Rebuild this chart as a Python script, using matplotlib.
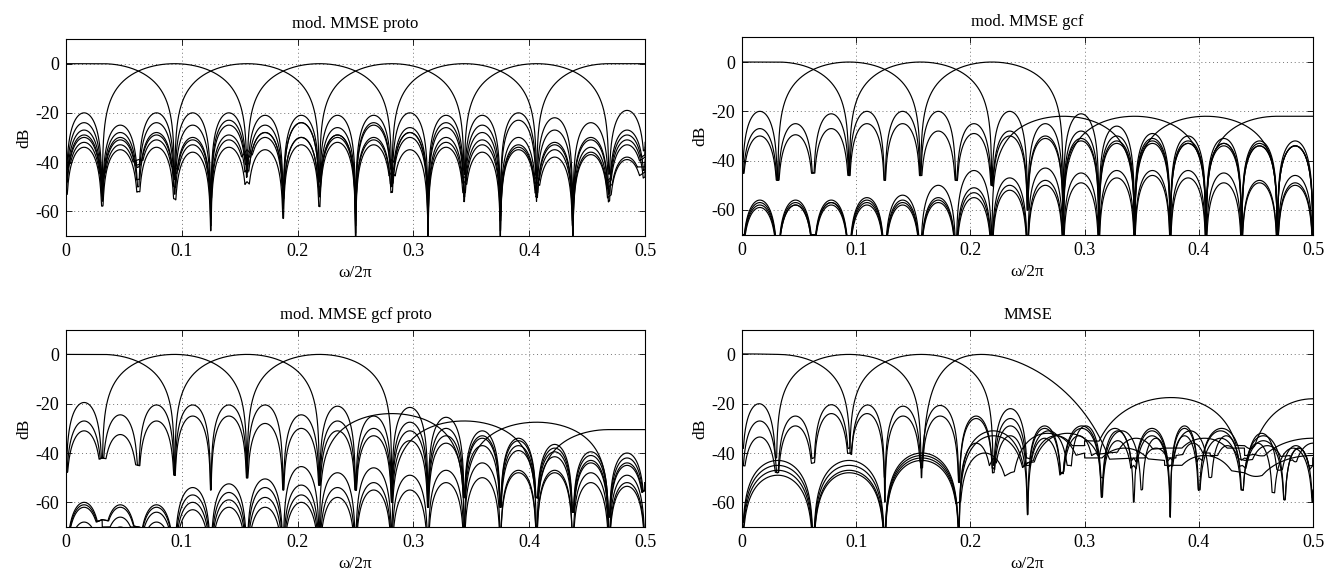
import numpy as np
import matplotlib
matplotlib.use("Agg")
import matplotlib.pyplot as plt
from matplotlib.ticker import FuncFormatter

plt.rcParams['font.family'] = ['Liberation Serif', 'DejaVu Serif']
plt.rcParams['axes.unicode_minus'] = False

N = None
titles = ["mod. MMSE proto", "mod. MMSE gcf", "mod. MMSE gcf proto", "MMSE"]
xticks = [0, 0.1, 0.2, 0.3, 0.4, 0.5]
yticks = [-60, -40, -20, 0]

# ---- panels A-C: lobes on a 1/32 grid (bin units); main = (first null, last null) ----
A_main = [(-1, 3), (1, 5), (3, 7), (5, 9), (7, 11), (9, 13), (11, 15), (13, 17)]
A_level = [0, 0, 0, 0, 0, 0, 0, 0]
A_side = [
    [N, N, N, -20, -25, -28, -30, -30, -33, -35, -32, -36, -34, -38, -36, -38],
    [-20, N, N, N, N, -21, -24, -29, -31, -30, -34, -33, -35, -33, -37, -39],
    [-24, -25, -20, N, N, N, N, -21, -25, -28, -30, -31, -33, -35, -34, -33],
    [-27, -28, -24, -25, -20, N, N, N, N, -20, -24, -28, -30, -32, -31, -31],
    [-29, -30, -28, -30, -23, -25, -21, N, N, N, N, -21, -23, -27, -30, -29],
    [-30, -31, -29, -31, -29, -28, -24, -26, -21, N, N, N, N, -22, -24, -27],
    [-32, -33, -31, -33, -31, -30, -30, -29, -24, -26, -21, N, N, N, N, -19],
    [-34, -35, -34, -36, -34, -35, -33, -32, -30, -28, -26, -25, -20, N, N, N],
]
A_depth = [-45, -50, -44, -47, -60, -40, -55, -50, -66, -44, -62, -48, -64, -48, -66, -50, -40]
A_offset = [0, -4, 2, -6, 3, -3, 5, -8]

B_main = A_main
B_level = [0, 0, 0, 0, -22, -22, -22, -22]
B_side = [
    [N, N, N, -20, -25, -28, -29, -30, -31, -32, -33, -33, -33, -34, -34, -34],
    [-20, N, N, N, N, -20, -25, -28, -30, -31, -32, -32, -33, -33, -34, -34],
    [-27, -25, -21, N, N, N, N, -20, -25, -28, -30, -31, -32, -33, -33, -34],
    [-30, -29.5, -27, -25, -20, N, N, N, N, -21, -26, -29, -30, -31, -32, -32],
    [-56, -56, -56, -55, -54, -50, -44, N, N, N, N, -44, -47, -49, -49, -50],
    [-57, -57, -57, -56, -56, -55, -51, -47, -43, N, N, N, N, -45, -48, -49],
    [-58, -58, -57, -57, -57, -56, -53, -50, -48, -45, -44, N, N, N, N, -46],
    [-59, -58, -58, -58, -58, -57, -55, -52, -50, -49, -47, -46, -44, N, N, N],
]
B_depth = [-45, -48, -45, -46, -48, -46, -48, -50, -60, -70, -70, -70, -70, -70, -70, -70, -70]
B_offset = [0, 0, 0, 0, -25, -25, -25, -25]

C_main = A_main
C_level = [0, 0, 0, 0, -24, -27, -27.5, -30.5]
C_side = [
    [N, N, N, -20.5, -25, -28, -30, -31, -33, -35, -36, -37, -39, -41.5, -44, -45],
    [-19.5, N, N, N, N, -20.5, -24.5, -27, -30, -31, -33, -34, -37, -39.5, -43, -44],
    [-27, -24.5, -20.5, N, N, N, N, -21, -25, -27.5, -30, -33, -35, -38, -41, -42],
    [-31, -32.5, -27, -25, -20.5, N, N, N, N, -21.5, -25.5, -31, -34, -36.5, -39.5, -40],
    [-60, -61, -61, -54, -52.5, -50.5, -45.5, N, N, N, N, -44, -47, -48, -52, -53.5],
    [-61, -62, -62, -57, -56, -54, -53, -48, -46, N, N, N, N, -47, -48, -52],
    [-62, -66, -64, -60, -59, -58, -57, -54, -52, -49, -47, N, N, N, N, -49],
    [-68, -70, -68, -63, -62, -62, -60, -58, -55, -55, -52, -50, -48, N, N, N],
]
C_depth = [-48, -42, -45, -49, -55, -50, -55, -53, -55, -60, -62, -58, -62, -58, -64, -66, -55]
C_offset = [0, 0, 0, 0, -25, -25, -25, -25]

# ---- panel D: explicit nulls (omega/2pi), lobe peaks (dB; or (dB, peak pos, sharpness)), null depths ----
D_nulls = [
    [-0.033, 0.095, 0.125, 0.157, 0.19, 0.22, 0.25, 0.28, 0.315, 0.343, 0.375, 0.40, 0.438, 0.465, 0.5],
    [0, 0.03, 0.157, 0.19, 0.22, 0.25, 0.287, 0.315, 0.35, 0.375, 0.41, 0.438, 0.475, 0.5],
    [0, 0.031, 0.0625, 0.094, 0.22, 0.25, 0.28, 0.31, 0.343, 0.375, 0.40, 0.44, 0.47, 0.5],
    [0, 0.031, 0.0625, 0.094, 0.125, 0.157, 0.345, 0.38, 0.41, 0.44, 0.48, 0.52],
    [0, 0.0625, 0.125, 0.19, 0.25, 0.30, 0.44, 0.56],
    [0, 0.0625, 0.125, 0.19, 0.22, 0.25, 0.28, 0.315, 0.343, 0.375, 0.40, 0.438, 0.475, 0.5],
    [0, 0.0625, 0.125, 0.19, 0.25, 0.32, 0.37, 0.44, 0.56],
    [0, 0.0625, 0.125, 0.19, 0.235, 0.30, 0.37, 0.44, 0.56],
]
D_peaks = [
    [0, -20.5, -25, -25, -26, -29, -34, -30, -35, -33, -29, -34, -36, -38],
    [-20, 0, -20.7, -25, -26, -31, -29, -31, -34, -31, -33, -35, -38],
    [-27, -25, -20.4, 0, -22, -29, -33, -30, -31, -33, -30, -32, -37],
    [-33.5, -29, -24, -24, -21, (0, 0.28, 3.2), -38, -36, -37, -37, -39],
    [-43, -43, -40, -31, -33, (-17.5, 0.54, 1.3), (-21, 0.5, 1.5)],
    [-45, -45, -41, -36, -33, -30, -29, -31, -30, -30, -31, -33, -38],
    [-47, -47, -42, -33, -32, -34, -34, -37],
    [-49, -48, -43, -40, -32, -38, -41, -44],
]
D_depths = [
    [-80, -40, -60, -43, -52, -46, -65, -48, -58, -45, -66, -55, -55, -56, -60],
    [-38, -42, -50, -51, -48, -45, -45, -50, -55, -45, -50, -45, -59, -45],
    [-45, -48, -42, -38, -45, -42, -48, -40, -60, -42, -55, -42, -47, -45],
    [-45, -48, -44, -40, -50, -46, -42, -41, -39, -43, -41, -80],
    [-68, -72, -72, -70, -44, -35, -37, -80],
    [-68, -72, -72, -70, -42, -65, -48, -58, -42, -66, -42, -55, -59, -58],
    [-70, -72, -72, -70, -44, -40, -38, -38, -80],
    [-70, -72, -72, -60, -48, -40, -43, -48, -80],
]


def from_bins(main, level, side, base_depth, offset, binw=1.0 / 32):
    lo, hi = main
    segs = []
    for b in range(16):
        if b < lo or b >= hi:
            segs.append((b, b + 1, side[b]))
    segs.append((lo, hi, level))
    segs.sort()
    nulls = [segs[0][0]] + [s[1] for s in segs]
    peaks = [s[2] for s in segs]
    depths = [(base_depth[j] + offset) if 0 <= j <= 16 else -90 for j in nulls]
    return [n * binw for n in nulls], peaks, depths


def lobes(x, nulls, peaks, depths):
    y = np.full_like(x, -300.0)
    for i, p in enumerate(peaks):
        a, b = nulls[i], nulls[i + 1]
        if isinstance(p, tuple):
            lev, pf, k = p
        else:
            lev, pf, k = p, 0.5, 1.0
        m = (x >= a) & (x <= b)
        if not m.any():
            continue
        u = (x[m] - a) / (b - a)
        e = np.log(0.5) / np.log(pf)
        s = np.sin(np.pi * np.clip(u, 0, 1) ** e)
        arch = lev + k * 20 * np.log10(np.maximum(s, 1e-8))
        floor = depths[i] + (depths[i + 1] - depths[i]) * u
        floor = np.minimum(floor, lev - 4)
        y[m] = np.maximum(arch, floor)
    return y


def response(x, nulls, peaks, depths):
    p = (10 ** (lobes(x, nulls, peaks, depths) / 10)
         + 10 ** (lobes(-x, nulls, peaks, depths) / 10)
         + 10 ** (lobes(1 - x, nulls, peaks, depths) / 10))
    return np.maximum(10 * np.log10(p + 1e-30), -80)


x = np.linspace(0, 0.5, 6001)

fig = plt.figure(figsize=(13.36, 5.75), dpi=100)
positions = [
    [0.0494, 0.590, 0.4335, 0.342],
    [0.5554, 0.592, 0.4274, 0.343],
    [0.0494, 0.0835, 0.4335, 0.343],
    [0.5554, 0.0835, 0.4274, 0.343],
]

curves = []
for main, level, side, dep, off in [(A_main, A_level, A_side, A_depth, A_offset),
                                     (B_main, B_level, B_side, B_depth, B_offset),
                                     (C_main, C_level, C_side, C_depth, C_offset)]:
    curves.append([from_bins(main[k], level[k], side[k], dep, off[k]) for k in range(8)])
curves.append([(D_nulls[k], D_peaks[k], D_depths[k]) for k in range(len(D_nulls))])

fmt = FuncFormatter(lambda v, pos: "0" if abs(v) < 1e-9 else ("%g" % v))

for i in range(4):
    ax = fig.add_axes(positions[i])
    for nulls, peaks, depths in curves[i]:
        ax.plot(x, response(x, nulls, peaks, depths), color='black', lw=0.85)
    ax.set_xlim(0, 0.5)
    ax.set_ylim(-70, 10)
    ax.set_xticks(xticks)
    ax.set_yticks(yticks)
    ax.xaxis.set_major_formatter(fmt)
    ax.grid(True, linestyle=(0, (1, 3)), color='0.45', lw=0.7)
    ax.tick_params(direction='in', top=True, right=True, length=4, width=0.6,
                   labelsize=13, pad=5)
    for s in ax.spines.values():
        s.set_linewidth(0.8)
    ax.set_title(titles[i], fontsize=12, pad=8)
    ax.set_xlabel("\u03c9/2\u03c0", fontsize=12.5, labelpad=4)
    ax.set_ylabel("dB", fontsize=12.5, labelpad=2)

fig.savefig("out.png", dpi=100)
